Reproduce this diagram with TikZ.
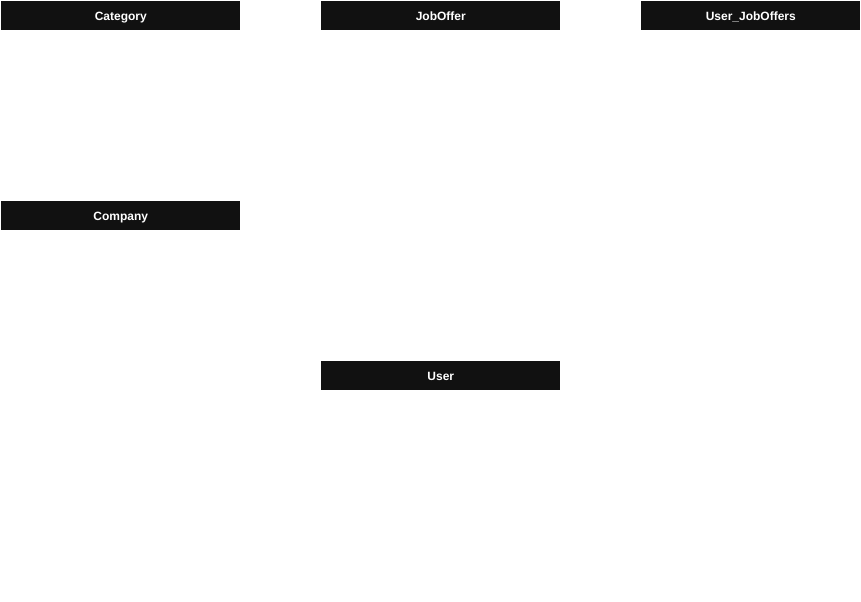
\documentclass[tikz,border=0pt]{standalone}
\usepackage{fontspec}
\setmainfont{Liberation Sans}
\usepackage{tikz}
\usetikzlibrary{positioning}

\definecolor{barblack}{HTML}{111111}

\tikzset{
	tablehead/.style={fill=barblack, text=white, font=\bfseries\fontsize{9}{10}\selectfont,
		text height=8pt, text depth=1pt,
		minimum width=179.25pt, minimum height=21.75pt, inner sep=0pt, anchor=north west},
}

\begin{document}
\begin{tikzpicture}[x=0.75pt, y=-0.75pt]
			\def\xMAX{861};
			\def\yMAX{601};

			\useasboundingbox (0,0) rectangle (\xMAX,\yMAX);

			% entity headers
			\node[tablehead] (category) at (1,1) {Category};
			\node[tablehead] (joboffer) at (321,1) {JobOffer};
			\node[tablehead, minimum width=164.25pt] (userjoboffers) at (641,1) {User\_JobOffers};
			\node[tablehead] (company) at (1,201) {Company};
			\node[tablehead] (user) at (321,361) {User};
		\end{tikzpicture}
\end{document}
